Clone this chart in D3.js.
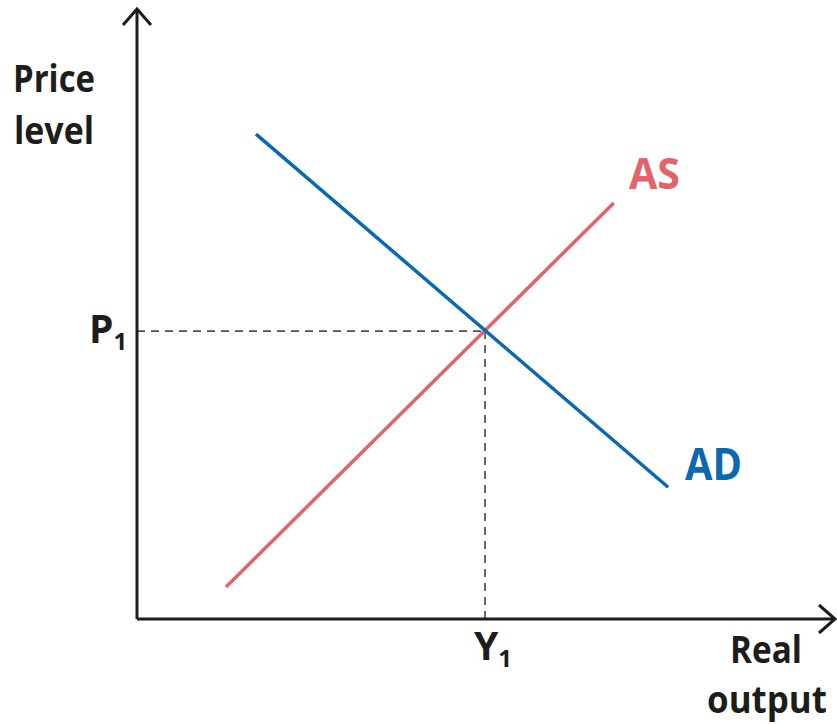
<!DOCTYPE html>
<html>
<head>
<meta charset="utf-8">
<script src="https://cdn.jsdelivr.net/npm/d3@7"></script>
<style>
  html, body { margin: 0; padding: 0; background: #fff; }
  svg text { font-family: "Open Sans", "Noto Sans", sans-serif; font-weight: 700; }
</style>
</head>
<body>
<svg id="chart" width="837" height="724"></svg>
<script>
// Data (model units 0..100)
const asCurve = [{x: 12.75, y: 5.25}, {x: 68.3, y: 68.2}];
const adCurve = [{x: 17.05, y: 79.5}, {x: 76.1, y: 21.6}];
const equilibrium = {x: 49.86, y: 47.2};
const axisLabels = {y: ["Price", "level"], x: ["Real", "output"]};
const tickLabels = {p: "P", y: "Y", sub: "1"};
const curveLabels = ["AS", "AD"];

const svg = d3.select("#chart");
const x = d3.scaleLinear().domain([0, 100]).range([137, 835]);
const y = d3.scaleLinear().domain([0, 100]).range([619, 9]);

const ink = "#1d1d1b";
const red = "#e0646a";
const blue = "#0a69b0";

// Dashed guides
svg.append("line")
  .attr("x1", x(0)).attr("y1", y(equilibrium.y))
  .attr("x2", x(equilibrium.x)).attr("y2", y(equilibrium.y))
  .attr("stroke", "#505050").attr("stroke-width", 1.7).attr("stroke-dasharray", "8,6");
svg.append("line")
  .attr("x1", x(equilibrium.x)).attr("y1", y(equilibrium.y))
  .attr("x2", x(equilibrium.x)).attr("y2", y(0))
  .attr("stroke", "#505050").attr("stroke-width", 1.7).attr("stroke-dasharray", "8,6");

// Axes
svg.append("line").attr("x1", x(0)).attr("y1", y(0)).attr("x2", x(0)).attr("y2", y(100))
  .attr("stroke", ink).attr("stroke-width", 3);
svg.append("line").attr("x1", x(0)).attr("y1", y(0)).attr("x2", x(100)).attr("y2", y(0))
  .attr("stroke", ink).attr("stroke-width", 3);
// Arrow heads
svg.append("path")
  .attr("d", `M${x(0)-14},${y(100)+16} L${x(0)},${y(100)} L${x(0)+14},${y(100)+16}`)
  .attr("fill", "none").attr("stroke", ink).attr("stroke-width", 3);
svg.append("path")
  .attr("d", `M${x(100)-16},${y(0)-14} L${x(100)},${y(0)} L${x(100)-16},${y(0)+14}`)
  .attr("fill", "none").attr("stroke", ink).attr("stroke-width", 3);

// Curves
const line = d3.line().x(d => x(d.x)).y(d => y(d.y));
svg.append("path").datum(asCurve).attr("d", line)
  .attr("fill", "none").attr("stroke", red).attr("stroke-width", 3.5);
svg.append("path").datum(adCurve).attr("d", line)
  .attr("fill", "none").attr("stroke", blue).attr("stroke-width", 3.5);

// Curve labels
svg.append("text").attr("x", 629).attr("y", 189).attr("font-size", 43)
  .attr("fill", red).attr("textLength", 51).attr("lengthAdjust", "spacingAndGlyphs").text(curveLabels[0]);
svg.append("text").attr("x", 685).attr("y", 480).attr("font-size", 44)
  .attr("fill", blue).attr("textLength", 57).attr("lengthAdjust", "spacingAndGlyphs").text(curveLabels[1]);

// Axis titles
svg.append("text").attr("x", 13).attr("y", 92).attr("font-size", 38).attr("fill", ink)
  .attr("textLength", 82).attr("lengthAdjust", "spacingAndGlyphs").text(axisLabels.y[0]);
svg.append("text").attr("x", 14).attr("y", 144).attr("font-size", 38).attr("fill", ink)
  .attr("textLength", 80).attr("lengthAdjust", "spacingAndGlyphs").text(axisLabels.y[1]);
svg.append("text").attr("x", 730).attr("y", 663).attr("font-size", 38).attr("fill", ink)
  .attr("textLength", 72).attr("lengthAdjust", "spacingAndGlyphs").text(axisLabels.x[0]);
svg.append("text").attr("x", 707).attr("y", 713).attr("font-size", 37).attr("fill", ink)
  .attr("textLength", 120).attr("lengthAdjust", "spacingAndGlyphs").text(axisLabels.x[1]);

// Tick labels with subscripts
const p = svg.append("text").attr("x", 89).attr("y", 343).attr("font-size", 39).attr("fill", ink);
p.append("tspan").text(tickLabels.p);
p.append("tspan").attr("font-size", 24).attr("dy", 7).text(tickLabels.sub);

const yl = svg.append("text").attr("x", x(equilibrium.x) - 11).attr("y", 660).attr("font-size", 39).attr("fill", ink);
yl.append("tspan").text(tickLabels.y);
yl.append("tspan").attr("font-size", 24).attr("dy", 7).text(tickLabels.sub);
</script>
</body>
</html>
